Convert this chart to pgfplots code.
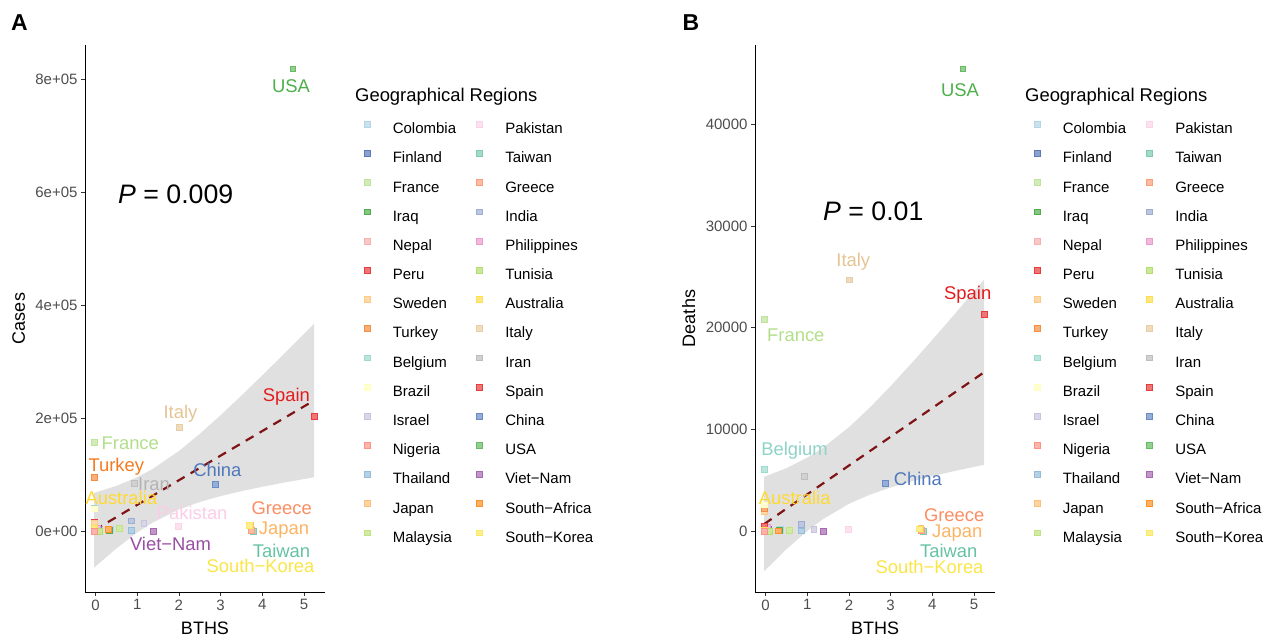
\documentclass[border=0pt]{standalone}
\usepackage{fontspec}
\setmainfont{Liberation Sans}
\usepackage{pgfplots}
\pgfplotsset{compat=1.18}
\definecolor{tickgray}{HTML}{4D4D4D}
\definecolor{cColombia}{HTML}{A6CEE3}
\definecolor{cFinland}{HTML}{3F62AE}
\definecolor{cFrance}{HTML}{B2DF8A}
\definecolor{cIraq}{HTML}{33A02C}
\definecolor{cNepal}{HTML}{F4A3A2}
\definecolor{cPeru}{HTML}{E31A1C}
\definecolor{cSweden}{HTML}{FDBF6F}
\definecolor{cTurkey}{HTML}{F47A20}
\definecolor{cBelgium}{HTML}{8DD3C7}
\definecolor{cBrazil}{HTML}{FFFFB3}
\definecolor{cIsrael}{HTML}{BEBADA}
\definecolor{cNigeria}{HTML}{FB8072}
\definecolor{cThailand}{HTML}{80B1D3}
\definecolor{cJapan}{HTML}{FDB462}
\definecolor{cMalaysia}{HTML}{B3DE69}
\definecolor{cPakistan}{HTML}{FCCDE5}
\definecolor{cTaiwan}{HTML}{66C2A5}
\definecolor{cGreece}{HTML}{FC8D62}
\definecolor{cIndia}{HTML}{8DA0CB}
\definecolor{cPhilippines}{HTML}{E78AC3}
\definecolor{cTunisia}{HTML}{A6D854}
\definecolor{cAustralia}{HTML}{FFD92F}
\definecolor{cItaly}{HTML}{E5C494}
\definecolor{cIran}{HTML}{B3B3B3}
\definecolor{cSpain}{HTML}{E41A1C}
\definecolor{cChina}{HTML}{4F78BC}
\definecolor{cUSA}{HTML}{4DAF4A}
\definecolor{cVietNam}{HTML}{984EA3}
\definecolor{cSouthAfrica}{HTML}{FF7F00}
\definecolor{cSouthKorea}{HTML}{FAE546}
\definecolor{fitred}{HTML}{7F1416}
\newcommand\pt[4]{\addplot[only marks, mark=square*, mark size=2.9pt, mark options={draw=#1!85!white, fill=#1!60!white, line width=0.6pt}] coordinates {(#2,#3)}; \addlegendentry{#4}}
\pgfplotsset{
  panel/.style={
    scale only axis, width=240pt, height=547pt,
    xmin=-0.25, xmax=5.5,
    axis lines=left, axis line style={-, black, line width=0.6pt},
    xtick={0,1,2,3,4,5}, xticklabels={0,1,2,3,4,5},
    tick align=outside, major tick length=4pt,
    tick style={color=black!80, line width=0.6pt},
    ticklabel style={font=\fontsize{15}{18}\selectfont, text=tickgray},
    label style={font=\fontsize{18}{21}\selectfont},
    xlabel style={at={(axis description cs:0.5,0)}, anchor=base, yshift=-42.4pt},
    ylabel style={at={(axis description cs:0,0.5)}, anchor=center, yshift=66.3pt},
    clip=false,
    legend columns=2, legend cell align=left,
    legend image code/.code={\draw[##1] plot coordinates {(0pt,5.4pt)};},
    legend style={at={(axis description cs:1.1625,0.8603)}, anchor=north west,
      draw=none, fill=none, inner sep=0pt, outer sep=0pt,
      font=\fontsize{15}{18}\selectfont, row sep=13.88pt, column sep=23pt,
      nodes={inner sep=0pt, text height=11pt, text depth=3pt},
      /tikz/every even column/.append style={column sep=20.3pt}},
  },
}
\tikzset{clab/.style={font=\fontsize{18.4}{21}\selectfont, anchor=base, inner sep=0pt}}
\begin{document}
\begin{tikzpicture}
\useasboundingbox (0pt,0pt) rectangle (1269pt,637pt);
% ---------------- Panel A ----------------
\begin{axis}[panel, at={(85pt,45pt)}, anchor=south west,
  ymin=-1.071, ymax=8.611,
  ytick={0,2,4,6,8}, yticklabels={0e+00,2e+05,4e+05,6e+05,8e+05},
  xlabel={BTHS}, ylabel={Cases}]
\pt{cColombia}{0.36}{0.039}{Colombia}
\pt{cPakistan}{1.98}{0.095}{Pakistan}
\pt{cFinland}{0.06}{0.039}{Finland}
\pt{cTaiwan}{3.78}{0.004}{Taiwan}
\pt{cFrance}{-0.03}{1.58}{France}
\pt{cGreece}{3.74}{0.024}{Greece}
\pt{cIraq}{0.33}{0.016}{Iraq}
\pt{cIndia}{0.86}{0.19}{India}
\pt{cNepal}{-0.03}{0.0003}{Nepal}
\pt{cPhilippines}{0.05}{0.064}{Philippines}
\pt{cPeru}{-0.03}{0.16}{Peru}
\pt{cTunisia}{0.10}{0.009}{Tunisia}
\pt{cSweden}{-0.03}{0.15}{Sweden}
\pt{cAustralia}{-0.03}{0.066}{Australia}
\pt{cTurkey}{-0.03}{0.96}{Turkey}
\pt{cItaly}{2.0}{1.84}{Italy}
\pt{cBelgium}{-0.03}{0.42}{Belgium}
\pt{cIran}{0.94}{0.85}{Iran}
\pt{cBrazil}{-0.03}{0.40}{Brazil}
\pt{cSpain}{5.24}{2.04}{Spain}
\pt{cIsrael}{1.16}{0.14}{Israel}
\pt{cChina}{2.88}{0.83}{China}
\pt{cNigeria}{-0.03}{0.007}{Nigeria}
\pt{cUSA}{4.73}{8.19}{USA}
\pt{cThailand}{0.86}{0.028}{Thailand}
\pt{cVietNam}{1.39}{0.003}{Viet−Nam}
\pt{cJapan}{3.72}{0.11}{Japan}
\pt{cSouthAfrica}{0.30}{0.033}{South−Africa}
\pt{cMalaysia}{0.58}{0.054}{Malaysia}
\pt{cSouthKorea}{3.69}{0.107}{South−Korea}
\addplot[forget plot, draw=none, fill=black!60, fill opacity=0.2] coordinates {
(-0.03,0.683) (0.5,0.807) (1.0,0.961) (1.37,1.106) (2.0,1.425) (2.5,1.728) (3.0,2.059) (3.5,2.408) (4.0,2.766) (4.5,3.131) (5.0,3.501) (5.24,3.680)
(5.24,0.960) (5.0,0.929) (4.5,0.863) (4.0,0.792) (3.5,0.714) (3.0,0.627) (2.5,0.522) (2.0,0.389) (1.37,0.158) (1.0,-0.019) (0.5,-0.301) (-0.03,-0.639)} -- cycle;
\addplot[forget plot, fitred, line width=2.2pt, dash pattern=on 9pt off 7pt] coordinates {(-0.03,0.022) (5.24,2.320)};
\end{axis}
% ---------------- Panel B ----------------
\begin{axis}[panel, at={(755pt,45pt)}, anchor=south west,
  ymin=-5.96, ymax=47.77,
  ytick={0,10,20,30,40}, yticklabels={0,10000,20000,30000,40000},
  xlabel={BTHS}, ylabel={Deaths}]
\pt{cColombia}{0.36}{0.18}{Colombia}
\pt{cPakistan}{1.98}{0.22}{Pakistan}
\pt{cFinland}{0.06}{0.19}{Finland}
\pt{cTaiwan}{3.78}{0.006}{Taiwan}
\pt{cFrance}{-0.03}{20.86}{France}
\pt{cGreece}{3.74}{0.12}{Greece}
\pt{cIraq}{0.33}{0.08}{Iraq}
\pt{cIndia}{0.86}{0.68}{India}
\pt{cNepal}{-0.03}{0.0}{Nepal}
\pt{cPhilippines}{0.05}{0.43}{Philippines}
\pt{cPeru}{-0.03}{0.55}{Peru}
\pt{cTunisia}{0.10}{0.04}{Tunisia}
\pt{cSweden}{-0.03}{1.94}{Sweden}
\pt{cAustralia}{-0.03}{0.07}{Australia}
\pt{cTurkey}{-0.03}{2.30}{Turkey}
\pt{cItaly}{2.0}{24.7}{Italy}
\pt{cBelgium}{-0.03}{6.1}{Belgium}
\pt{cIran}{0.94}{5.37}{Iran}
\pt{cBrazil}{-0.03}{2.6}{Brazil}
\pt{cSpain}{5.24}{21.3}{Spain}
\pt{cIsrael}{1.16}{0.18}{Israel}
\pt{cChina}{2.88}{4.70}{China}
\pt{cNigeria}{-0.03}{0.02}{Nigeria}
\pt{cUSA}{4.73}{45.43}{USA}
\pt{cThailand}{0.86}{0.05}{Thailand}
\pt{cVietNam}{1.39}{0.0}{Viet−Nam}
\pt{cJapan}{3.72}{0.28}{Japan}
\pt{cSouthAfrica}{0.30}{0.06}{South−Africa}
\pt{cMalaysia}{0.58}{0.09}{Malaysia}
\pt{cSouthKorea}{3.69}{0.24}{South−Korea}
\addplot[forget plot, draw=none, fill=black!60, fill opacity=0.2] coordinates {
(-0.03,5.354) (0.5,6.198) (1.0,7.228) (1.37,8.184) (2.0,10.224) (2.5,12.154) (3.0,14.27) (3.5,16.506) (4.0,18.817) (4.5,21.177) (5.0,23.57) (5.24,24.727)
(5.24,6.531) (5.0,6.33) (4.5,5.893) (4.0,5.423) (3.5,4.904) (3.0,4.31) (2.5,3.596) (2.0,2.696) (1.37,1.170) (1.0,0.032) (0.5,-1.768) (-0.03,-3.924)} -- cycle;
\addplot[forget plot, fitred, line width=2.2pt, dash pattern=on 9pt off 7pt] coordinates {(-0.03,0.715) (5.24,15.629)};
\end{axis}
% ---------------- texts ----------------
\node[font=\fontsize{23}{26}\selectfont\bfseries, anchor=base, inner sep=0pt] at (19.5pt,606.5pt) {A};
\node[font=\fontsize{23}{26}\selectfont\bfseries, anchor=base, inner sep=0pt] at (691pt,606.5pt) {B};
\node[font=\fontsize{26.7}{30}\selectfont, anchor=base west, inner sep=0pt] at (118pt,433.4pt) {\textit{P} = 0.009};
\node[font=\fontsize{26.7}{30}\selectfont, anchor=base west, inner sep=0pt] at (823pt,416.4pt) {\textit{P} = 0.01};
\node[font=\fontsize{18.4}{21}\selectfont, anchor=base west, inner sep=0pt] at (355pt,535.6pt) {Geographical Regions};
\node[font=\fontsize{18.4}{21}\selectfont, anchor=base west, inner sep=0pt] at (1025pt,535.6pt) {Geographical Regions};
% country labels panel A
\node[clab, text=cUSA] at (291pt,544.4pt) {USA};
\node[clab, text=cSpain] at (286.4pt,235.4pt) {Spain};
\node[clab, text=cItaly] at (180.5pt,218.4pt) {Italy};
\node[clab, text=cFrance] at (130.3pt,187.7pt) {France};
\node[clab, text=cTurkey] at (116.3pt,165.4pt) {Turkey};
\node[clab, text=cChina] at (217.3pt,160.4pt) {China};
\node[clab, text=cIran] at (154pt,146.1pt) {Iran};
\node[clab, text=cAustralia] at (121.3pt,132.1pt) {Australia};
\node[clab, text=cPakistan] at (192.2pt,117.1pt) {Pakistan};
\node[clab, text=cGreece] at (281.7pt,122.1pt) {Greece};
\node[clab, text=cJapan] at (284pt,102.9pt) {Japan};
\node[clab, text=cVietNam] at (170.5pt,86.4pt) {Viet−Nam};
\node[clab, text=cTaiwan] at (281.5pt,79.7pt) {Taiwan};
\node[clab, text=cSouthKorea] at (260.5pt,64.7pt) {South−Korea};
% country labels panel B
\node[clab, text=cUSA] at (960pt,540.2pt) {USA};
\node[clab, text=cItaly] at (853.3pt,370pt) {Italy};
\node[clab, text=cSpain] at (967.7pt,337.4pt) {Spain};
\node[clab, text=cFrance] at (795.8pt,295.4pt) {France};
\node[clab, text=cBelgium] at (794.5pt,181.4pt) {Belgium};
\node[clab, text=cChina] at (917.8pt,151.6pt) {China};
\node[clab, text=cAustralia] at (794.7pt,132.9pt) {Australia};
\node[clab, text=cGreece] at (954.2pt,115.4pt) {Greece};
\node[clab, text=cJapan] at (957.3pt,99.4pt) {Japan};
\node[clab, text=cTaiwan] at (948.7pt,79.4pt) {Taiwan};
\node[clab, text=cSouthKorea] at (929.5pt,63.7pt) {South−Korea};
\end{tikzpicture}
\end{document}
